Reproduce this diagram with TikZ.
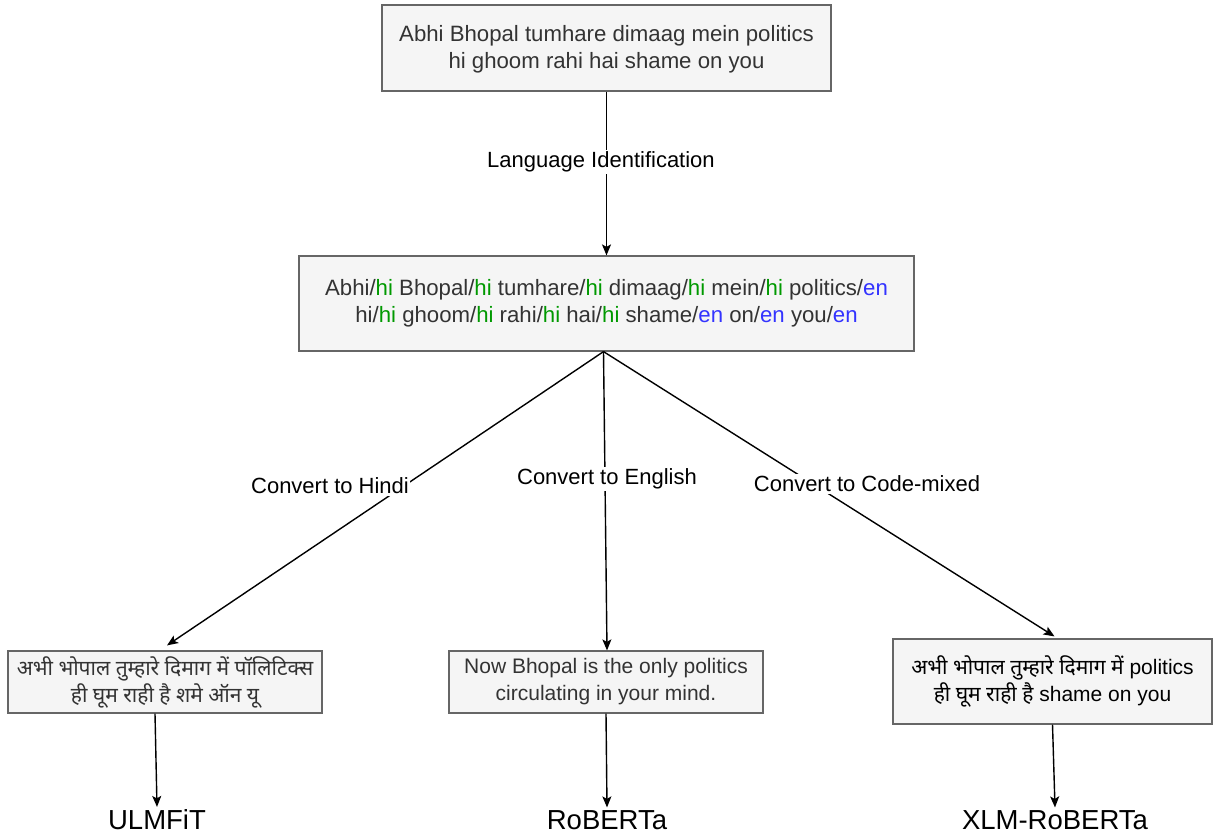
\documentclass[tikz,border=0pt]{standalone}
\usepackage{fontspec}
\setmainfont{Liberation Sans}
\newfontfamily\deva[Script=Devanagari]{Noto Sans}
\usetikzlibrary{arrows.meta}
\definecolor{boxfill}{HTML}{F5F5F5}
\definecolor{boxline}{HTML}{666666}
\definecolor{txt}{HTML}{333333}
\definecolor{hig}{HTML}{009900}
\definecolor{enb}{HTML}{3333FF}
\newcommand{\HItag}{\textcolor{hig}{hi}}
\newcommand{\ENtag}{\textcolor{enb}{en}}
\begin{document}
\begin{tikzpicture}[x=1pt,y=-1pt,
 box/.style={draw=boxline, line width=1.2pt, fill=boxfill, text=txt, align=center, inner sep=0pt, font=\fontsize{21}{27}\selectfont},
 bigbox/.style={box, font=\fontsize{22.2}{27}\selectfont},
 lbl/.style={fill=white, inner sep=1.5pt, font=\fontsize{22}{25}\selectfont},
 model/.style={inner sep=0pt, outer sep=3pt, font=\fontsize{27.5}{30}\selectfont},
 arr/.style={line width=1.4pt, -{Stealth[length=11pt,width=9pt,inset=2.5pt]}}
]
\useasboundingbox[fill=white] (0,0) rectangle (1214,836);

\node[bigbox, minimum width=449pt, minimum height=86pt] (top) at (606.5,48)
  {\strut Abhi Bhopal tumhare dimaag mein politics\\hi ghoom rahi hai shame on you};

\node[bigbox, minimum width=615pt, minimum height=95pt] (mid) at (606.5,303.5)
  {Abhi/\HItag{} Bhopal/\HItag{} tumhare/\HItag{} dimaag/\HItag{} mein/\HItag{} politics/\ENtag\\
   hi/\HItag{} ghoom/\HItag{} rahi/\HItag{} hai/\HItag{} shame/\ENtag{} on/\ENtag{} you/\ENtag};

\node[box, minimum width=314pt, minimum height=62pt] (hin) at (165,682)
  {\deva अभी भोपाल तुम्हारे दिमाग में पॉलिटिक्स\\\deva ही घूम राही है शमे ऑन यू};

\node[box, minimum width=314pt, minimum height=62pt] (eng) at (606,682)
  {Now Bhopal is the only politics\\circulating in your mind.};

\node[box, minimum width=319pt, minimum height=85pt, text=black] (cm) at (1052.5,681.5)
  {{\deva अभी भोपाल तुम्हारे दिमाग में} politics\\{\deva ही घूम राही है} shame on you};

\node[model] (ulm) at (157,820) {ULMFiT};
\node[model] (rob) at (607,820) {RoBERTa};
\node[model] (xlm) at (1055,820) {XLM-RoBERTa};

\draw[arr] (top.south) -- (mid.north);
\node[lbl] at (601,162) {Language Identification};

\draw[arr] ([xshift=-3pt]mid.south) -- ([xshift=2pt,yshift=5pt]hin.north);
\node[lbl] at (330,486) {Convert to Hindi};

\draw[arr] ([xshift=-3pt]mid.south) -- ([xshift=1pt]eng.north);
\node[lbl] at (607,479) {Convert to English};

\draw[arr] ([xshift=-3pt]mid.south) -- ([xshift=2pt,yshift=2pt]cm.north);
\node[lbl] at (867,484) {Convert to Code-mixed};

\draw[arr] ([xshift=-10pt]hin.south) -- (ulm.north);
\draw[arr] (eng.south) -- (rob.north);
\draw[arr] (cm.south) -- (xlm.north);
\end{tikzpicture}
\end{document}
